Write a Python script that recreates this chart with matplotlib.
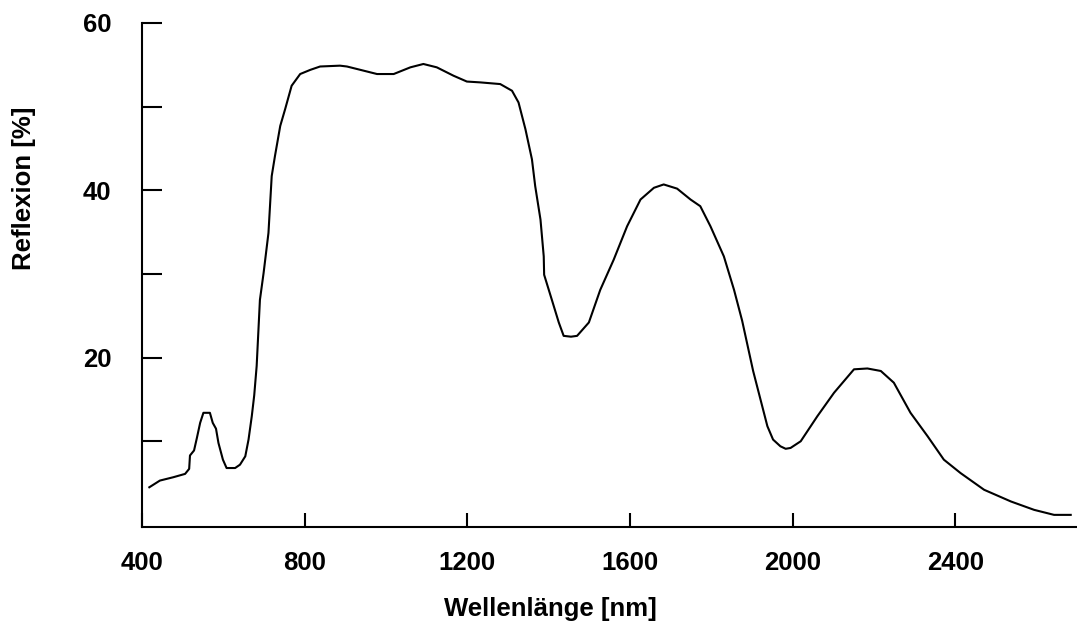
import matplotlib
matplotlib.use("Agg")
import matplotlib.pyplot as plt

wavelength_nm = [418, 444, 477, 506, 516, 518, 528, 535, 543, 551, 567, 574, 582, 588,
                 599, 608, 629, 641, 654, 662, 670, 676, 682, 690, 699, 711, 719, 727,
                 740, 752, 768, 789, 814, 838, 887, 904, 937, 978, 1019, 1060, 1092,
                 1125, 1166, 1199, 1232, 1281, 1310, 1326, 1343, 1359, 1367, 1380, 1388,
                 1389, 1408, 1425, 1437, 1455, 1470, 1499, 1527, 1560, 1593, 1626, 1659,
                 1683, 1716, 1749, 1773, 1798, 1831, 1856, 1876, 1903, 1938, 1952, 1970,
                 1983, 1995, 2020, 2061, 2102, 2151, 2184, 2217, 2249, 2290, 2332, 2372,
                 2413, 2471, 2537, 2594, 2643, 2684]
reflexion = [4.5, 5.3, 5.7, 6.1, 6.7, 8.3, 8.9, 10.4, 12.2, 13.4, 13.4, 12.2, 11.5, 9.8,
             7.8, 6.8, 6.8, 7.2, 8.2, 10.2, 13.0, 15.5, 19.0, 26.9, 30.1, 34.9, 41.7, 44.1,
             47.7, 49.7, 52.5, 53.9, 54.4, 54.8, 54.9, 54.8, 54.4, 53.9, 53.9, 54.7, 55.1,
             54.7, 53.7, 53.0, 52.9, 52.7, 51.9, 50.5, 47.3, 43.7, 40.5, 36.5, 32.1,
             29.9, 26.9, 24.2, 22.6, 22.5, 22.6, 24.2, 28.1, 31.7, 35.7, 38.9, 40.3,
             40.7, 40.2, 38.9, 38.1, 35.7, 32.1, 28.1, 24.4, 18.4, 11.8, 10.2, 9.4,
             9.1, 9.2, 10.0, 13.0, 15.8, 18.6, 18.7, 18.4, 17.0, 13.4, 10.6, 7.8,
             6.2, 4.2, 2.8, 1.8, 1.2, 1.2]

x_ticks = [400, 800, 1200, 1600, 2000, 2400]
x_tick_labels = ["400", "800", "1200", "1600", "2000", "2400"]
y_ticks = [10, 20, 30, 40, 50, 60]
y_tick_labels = ["", "20", "", "40", "", "60"]
x_label = "Wellenlänge [nm]"
y_label = "Reflexion [%]"

plt.rcParams['font.family'] = ['Liberation Sans', 'DejaVu Sans']

W, H = 1077, 624
fig = plt.figure(figsize=(W / 100, H / 100), dpi=100)
left, right, top, bottom = 142, 1076, 23, 527
ax = fig.add_axes([left / W, 1 - bottom / H, (right - left) / W, (bottom - top) / H])

ax.plot(wavelength_nm, reflexion, color="black", lw=1.5)

ax.set_xlim(400, 2697)
ax.set_ylim(-0.25, 60)
for s in ["top", "right"]:
    ax.spines[s].set_visible(False)
for s in ["left", "bottom"]:
    ax.spines[s].set_linewidth(1.5)
    ax.spines[s].set_color("black")

ax.set_xticks(x_ticks)
ax.set_xticklabels(x_tick_labels, fontsize=18.5, fontweight="bold")
ax.set_yticks(y_ticks)
ax.set_yticklabels(y_tick_labels, fontsize=18.5, fontweight="bold")
ax.tick_params(axis="x", direction="in", length=10, width=1.5, pad=17)
ax.tick_params(axis="y", direction="in", length=14.4, width=1.5, pad=22)

fig.text(550 / W, (H - 616) / H, x_label, ha="center", va="baseline",
         fontsize=18.5, fontweight="bold")
fig.text(24.5 / W, 1 - 188 / H, y_label, ha="center", va="center", rotation=90,
         fontsize=18.5, fontweight="bold")

fig.savefig("out.png", dpi=100, facecolor="white")
